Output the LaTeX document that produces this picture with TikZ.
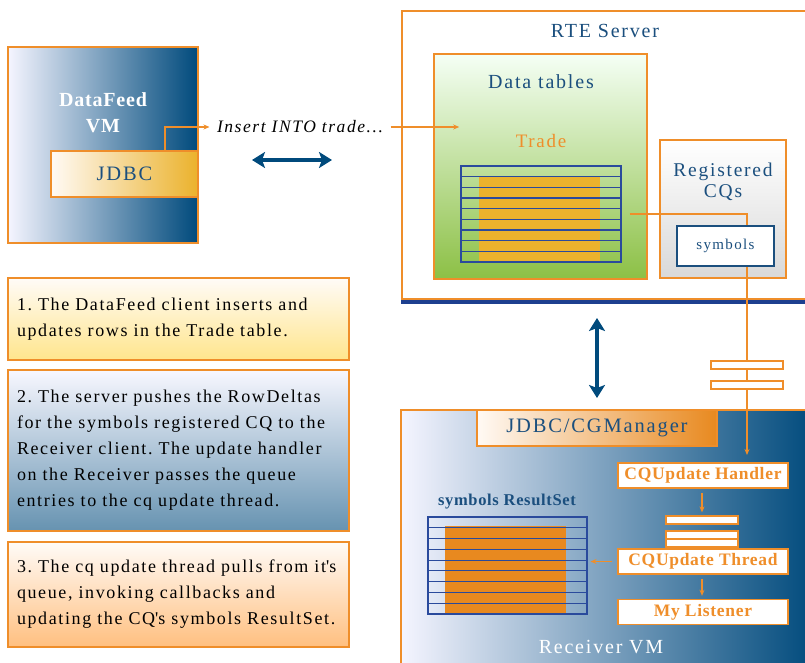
\documentclass[tikz,border=0pt]{standalone}
\usepackage{fontspec}
\setmainfont{Liberation Serif}[LetterSpace=9, BoldFeatures={LetterSpace=4}]
\usetikzlibrary{positioning, calc, arrows.meta}
\definecolor{rteorange}{HTML}{EF8E2A}
\definecolor{rteblue}{HTML}{004A7C}
\definecolor{textblue}{HTML}{1B4F7E}
\definecolor{gridblue}{HTML}{2A4A9C}
\definecolor{navy}{HTML}{1D3F8F}
\definecolor{gold}{HTML}{EBB22C}
\definecolor{leaf}{HTML}{8CC045}
\definecolor{pumpkin}{HTML}{E8891F}
\tikzset{
   panel/.style={
     draw=rteorange, line width=1.6pt, inner sep=0pt
   },
   vmbox/.style={
      panel,
      left color=blue!4!white, right color=rteblue
   },
   notebox/.style={
      panel,
      minimum width=341, text width=323, align=left,
      inner xsep=9, font=\fontsize{18}{26}\selectfont
   },
   stage/.style={
      draw=rteorange, line width=1.4pt, fill=white,
      minimum width=170, minimum height=25, inner sep=0pt,
      text=rteorange, font=\fontsize{17.5}{20}\selectfont\bfseries
   },
   queue/.style={
      draw=rteorange, line width=1.2pt, fill=white,
      minimum width=72, minimum height=8, inner sep=0pt
   },
   gridbox/.style={
      draw=gridblue, line width=1.1pt, inner sep=0pt,
      minimum width=160, minimum height=96
   },
   title/.style={text=textblue, font=\fontsize{20}{22}\selectfont},
   feedline/.style={draw=rteorange, line width=1.2pt,
      -{Stealth[length=6pt, width=5pt]}},
   linkline/.style={draw=rteblue, line width=4pt,
      {Stealth[length=13pt, width=16pt, inset=3pt]}-{Stealth[length=13pt, width=16pt, inset=3pt]}}
}
\frenchspacing

\begin{document}
\begin{tikzpicture}[x=1pt, y=-1pt]
   \useasboundingbox (0,0) rectangle (805,663);

   % DataFeed client
   \node[vmbox, minimum width=190, minimum height=196](datafeed) at (103,145) {};
   \node[text=white, align=center, font=\fontsize{20}{26}\selectfont\bfseries](dfname) at (103,113) {DataFeed\\VM};
   \node[panel, left color=orange!4!white, right color=gold, minimum width=147, minimum height=46,
         text=textblue, font=\fontsize{20.5}{22}\selectfont](jdbc) at (124.5,174) {JDBC};

   % RTE server
   \node[panel, fill=white, minimum width=414, minimum height=288, anchor=north west](rte) at (401,10) {};
   \fill[navy] ([yshift=-0.8]rte.south west) rectangle ([yshift=-4.5]rte.south east);
   \node[title](rtename) at (605,31) {RTE Server};

   \node[panel, top color=green!4!white, bottom color=leaf, minimum width=213, minimum height=225](data) at (540.5,166.5) {};
   \node[title](dataname) at (541,82) {Data tables};
   \node[title, text=rteorange, font=\fontsize{19}{22}\selectfont](tradename) at (541,141) {Trade};

   \node[gridbox](trade) at (541,214) {};
   \fill[gold] (479,176.7) rectangle (600,262);
   \foreach \r in {1,...,8}
      \draw[gridblue, line width=1.1pt] (461,{166+\r*10.67}) -- (621,{166+\r*10.67});
   \node[gridbox] at (541,214) {};

   \node[panel, top color=white, bottom color=black!15, minimum width=126, minimum height=138](cqs) at (723,209) {};
   \node[title, align=center, font=\fontsize{19.5}{21}\selectfont](cqsname) at (723,182) {Registered\\CQs};

   % Receiver client
   \node[vmbox, minimum width=415, minimum height=266, anchor=north west](receiver) at (400,409) {};
   \node[text=white, font=\fontsize{20}{22}\selectfont](recname) at (601,647) {Receiver VM};
   \node[panel, left color=orange!4!white, right color=pumpkin, minimum width=240, minimum height=36,
         text=textblue, font=\fontsize{20.5}{22}\selectfont](manager) at (597,428) {JDBC/CGManager};

   \node[stage](handler) at (703,475.5) {CQUpdate Handler};
   \node[queue](qa) at (702,520) {};
   \node[queue](qb) at (702,535) {};
   \node[queue](qc) at (702,543) {};
   \node[stage](thread) at (703,561.5) {CQUpdate Thread};
   \node[stage](listener) at (703,612) {My Listener};

   \node[gridbox, minimum width=159, minimum height=97](results) at (507.5,565.5) {};
   \fill[pumpkin] (445,526) rectangle (566,614);
   \foreach \r in {1,...,8}
      \draw[gridblue, line width=1.1pt] (428,{517+\r*10.78}) -- (587,{517+\r*10.78});
   \node[gridbox, minimum width=159, minimum height=97] at (507.5,565.5) {};
   \node[text=textblue, font=\fontsize{16.5}{18}\selectfont\bfseries](resname) at (507,502) {symbols ResultSet};

   % row deltas to the receiver
   \coordinate (drop) at (747,455);
   \draw[feedline] ([xshift=8]trade.east) -| (drop);
   \node[draw=textblue, line width=1.2pt, fill=white, minimum width=97, minimum height=40,
         text=textblue, font=\fontsize{15}{16}\selectfont](symbols) at (725.5,246) {symbols};
   \node[queue](qd) at (747,365) {};
   \node[queue](qe) at (747,385) {};

   \draw[feedline, shorten <=4, shorten >=3] (handler.south -| qa) -- (qa.north);
   \draw[feedline, shorten <=4, shorten >=3] (thread.south -| qa) -- (listener.north -| qa);
   \draw[feedline, shorten <=5, shorten >=3] (thread.west) -- (results.east |- thread);

   % insert from the datafeed
   \node[font=\fontsize{17.5}{20}\selectfont\itshape](insert) at (300,127) {Insert INTO trade...};
   \draw[feedline, shorten >=4] (165,151) |- (insert.west);
   \draw[feedline, shorten <=4] (insert.east) -- ([xshift=26]data.west |- insert);

   % client links
   \coordinate (dfl) at (252,160);
   \coordinate (dfr) at (332,160);
   \draw[linkline] (dfl) -- (dfr);
   \coordinate (rtl) at (597,318);
   \coordinate (rtr) at (597,398);
   \draw[linkline] (rtl) -- (rtr);

   % steps
   \node[notebox, top color=orange!3!white, bottom color=orange!45!yellow!45!white, minimum height=82](stepone) at (178.5,319)
      {1. The DataFeed client inserts and\\updates rows in the Trade table.};
   \node[notebox, top color=blue!3!white, bottom color=rteblue!60!white, minimum height=161](steptwo) at (178.5,450.5)
      {2. The server pushes the RowDeltas\\for the symbols registered CQ to the\\Receiver client. The update handler\\on the Receiver passes the queue\\entries to the cq update thread.};
   \node[notebox, top color=orange!3!white, bottom color=orange!50!white, minimum height=105](stepthree) at (178.5,594.5)
      {3. The cq update thread pulls from it\textquotesingle s\\queue, invoking callbacks and\\updating the CQ\textquotesingle s symbols ResultSet.};
\end{tikzpicture}
\end{document}
